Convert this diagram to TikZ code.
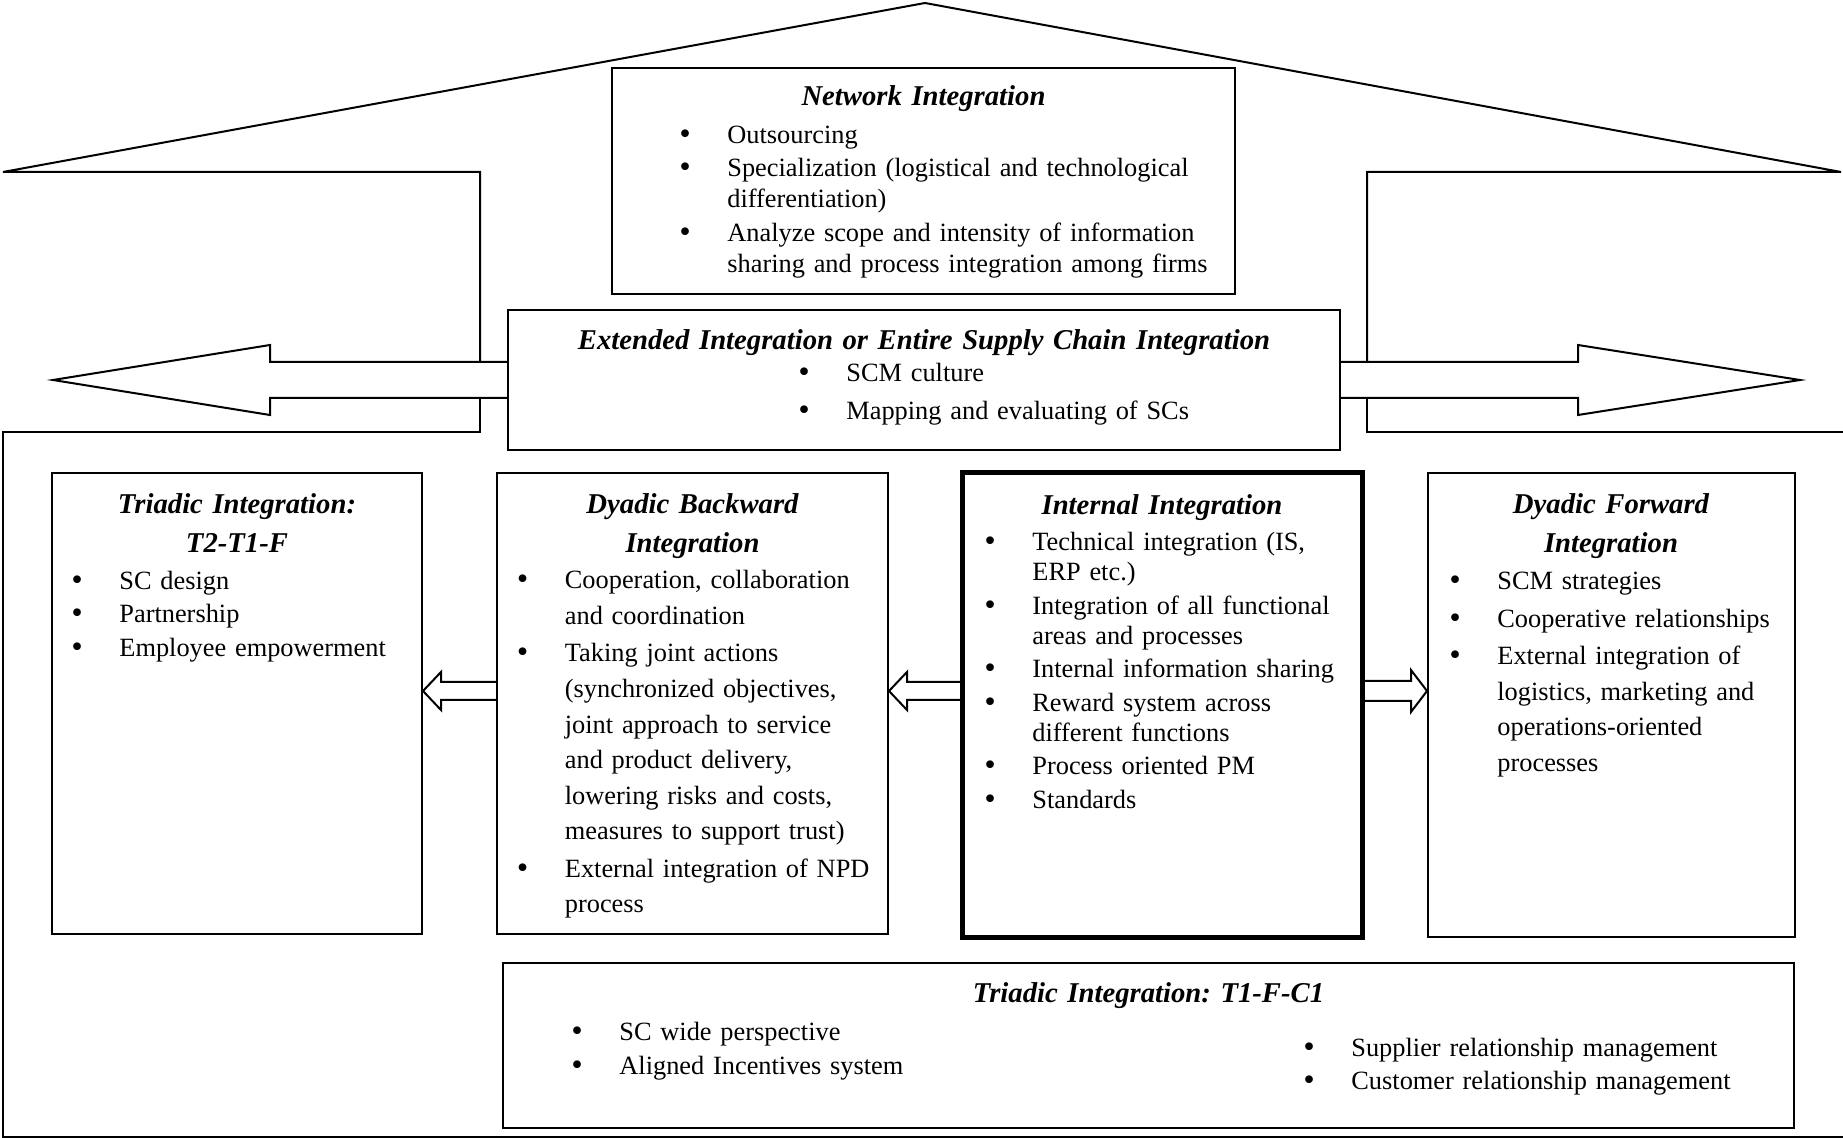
\documentclass[tikz,border=0pt]{standalone}
\usepackage{fontspec}
\setmainfont{Liberation Serif}
\newfontfamily\dotfont{DejaVu Sans}
\usetikzlibrary{calc,fit}

\newcommand\bodyfont{\fontsize{13.18}{17}\selectfont\frenchspacing}
\newcommand\headfont{\fontsize{14.35}{19.5}\selectfont\bfseries\itshape\frenchspacing}
\newcommand\spacing[2]{\baselineskip=#1\parskip=#2\relax}
\newcommand\bitem[1]{\hangindent=24pt\hangafter=0\noindent
  \llap{\makebox[24pt][l]{\hspace{-1pt}{\dotfont\textbullet}}}#1\par}
% tail, tip, shaft half height, head half height, head length
\newcommand\hollowarrow[5]{%
  \draw[hollow] ($(#1)+(0,-#3)$) -- ($(#2)!#5!(#1)+(0,-#3)$)
    -- ($(#2)!#5!(#1)+(0,-#4)$) -- (#2)
    -- ($(#2)!#5!(#1)+(0,#4)$) -- ($(#2)!#5!(#1)+(0,#3)$)
    -- ($(#1)+(0,#3)$);}

\tikzset{
  box/.style={draw, line width=1pt, inner sep=0pt},
  head/.style={anchor=base, inner sep=0pt, align=center, text width=#1, font=\headfont},
  head/.default=300pt,
  list/.style={anchor=base west, inner sep=0pt, text width=#1, font=\bodyfont},
  hollow/.style={line width=1pt, line join=miter},
  outline/.style={line width=1pt}
}

\begin{document}
\begin{tikzpicture}[x=0.5pt, y=-0.5pt]
  \useasboundingbox (0,0) rectangle (1843,1138);
  \fill[white] (0,0) rectangle (1843,1138);

  % boxes
  \node[box, fit={(612,68) (1235,294)}] (net) {};
  \node[box, fit={(508,310) (1340,450)}] (ext) {};
  \node[box, fit={(52,473) (422,934)}] (t2) {};
  \node[box, fit={(497,473) (888,934)}] (back) {};
  \node[box, line width=2.5pt, fit={(962.5,472.5) (1362.5,937.5)}] (int) {};
  \node[box, fit={(1428,473) (1795,937)}] (fwd) {};
  \node[box, line width=1.3pt, fit={(503,963) (1794,1128)}] (tri) {};

  % roof and walls
  \draw[outline] (480,362) -- (480,172) -- (3,172) -- (925,3) -- (1841,172)
    -- (1367,172) -- (1367,362);
  \draw[outline] (480,398) -- (480,432) -- (3,432) -- (3,1137) -- (1843,1137);
  \draw[outline] (1367,398) -- (1367,432) -- (1843,432);

  % arrows
  \coordinate (ltip) at (53,380);
  \coordinate (rtip) at (1800,380);
  \coordinate (row) at (0,691);
  \hollowarrow{ext.west}{ltip}{18}{35}{108.5pt}
  \hollowarrow{ext.east}{rtip}{18}{35}{111pt}
  \hollowarrow{int.west |- row}{back.east |- row}{9}{19}{9pt}
  \hollowarrow{back.west |- row}{t2.east |- row}{9}{19}{9pt}
  \hollowarrow{int.east |- row}{fwd.west |- row}{10}{21}{8pt}

  % network
  \node[head] (net title) at (923.5,106) {Network Integration};
  \node[list=270pt] (net list) at (679,143.3) {\spacing{15.6pt}{1.05pt}%
    \bitem{Outsourcing}
    \bitem{Specialization (logistical and technological\newline differentiation)}
    \bitem{Analyze scope and intensity of information\newline sharing and process integration among firms}};

  % extended
  \node[head=400pt] (ext title) at (924,350) {Extended Integration or Entire Supply Chain Integration};
  \node[list=260pt] (ext list) at (798,382) {\spacing{18.75pt}{0pt}%
    \bitem{SCM culture}
    \bitem{Mapping and evaluating of SCs}};

  % triadic T2-T1-F
  \node[head=180pt] (t2 title) at (237,513.5) {Triadic Integration:\\ T2-T1-F};
  \node[list=172pt] (t2 list) at (71,589.5) {\spacing{16.65pt}{0pt}%
    \bitem{SC design}
    \bitem{Partnership}
    \bitem{Employee empowerment}};

  % dyadic backward
  \node[head=190pt] (back title) at (692.5,513.5) {Dyadic Backward\\ Integration};
  \node[list=185pt] (back list) at (516.5,589) {\spacing{17.8pt}{0.85pt}%
    \bitem{Cooperation, collaboration\newline and coordination}
    \bitem{Taking joint actions\newline (synchronized objectives,\newline joint approach to service\newline
      and product delivery,\newline lowering risks and costs,\newline measures to support trust)}
    \bitem{External integration of NPD\newline process}};

  % internal
  \node[head=190pt] (int title) at (1162,515) {Internal Integration};
  \node[list=187pt] (int list) at (984,551) {\spacing{15pt}{1.75pt}%
    \bitem{Technical integration (IS,\newline ERP etc.)}
    \bitem{Integration of all functional\newline areas and processes}
    \bitem{Internal information sharing}
    \bitem{Reward system across\newline different functions}
    \bitem{Process oriented PM}
    \bitem{Standards}};

  % dyadic forward
  \node[head=180pt] (fwd title) at (1611,513.5) {Dyadic Forward\\ Integration};
  \node[list=172pt] (fwd list) at (1449,590) {\spacing{17.75pt}{1pt}%
    \bitem{SCM strategies}
    \bitem{Cooperative relationships}
    \bitem{External integration of\newline logistics, marketing and\newline operations-oriented\newline processes}};

  % triadic T1-F-C1
  \node[head] (tri title) at (1148.5,1002.5) {Triadic Integration: T1-F-C1};
  \node[list=300pt] (tri left) at (571,1040) {\spacing{17pt}{0pt}%
    \bitem{SC wide perspective}
    \bitem{Aligned Incentives system}};
  \node[list=240pt] (tri right) at (1303,1056.5) {\spacing{16.7pt}{0pt}%
    \bitem{Supplier relationship management}
    \bitem{Customer relationship management}};
\end{tikzpicture}
\end{document}
